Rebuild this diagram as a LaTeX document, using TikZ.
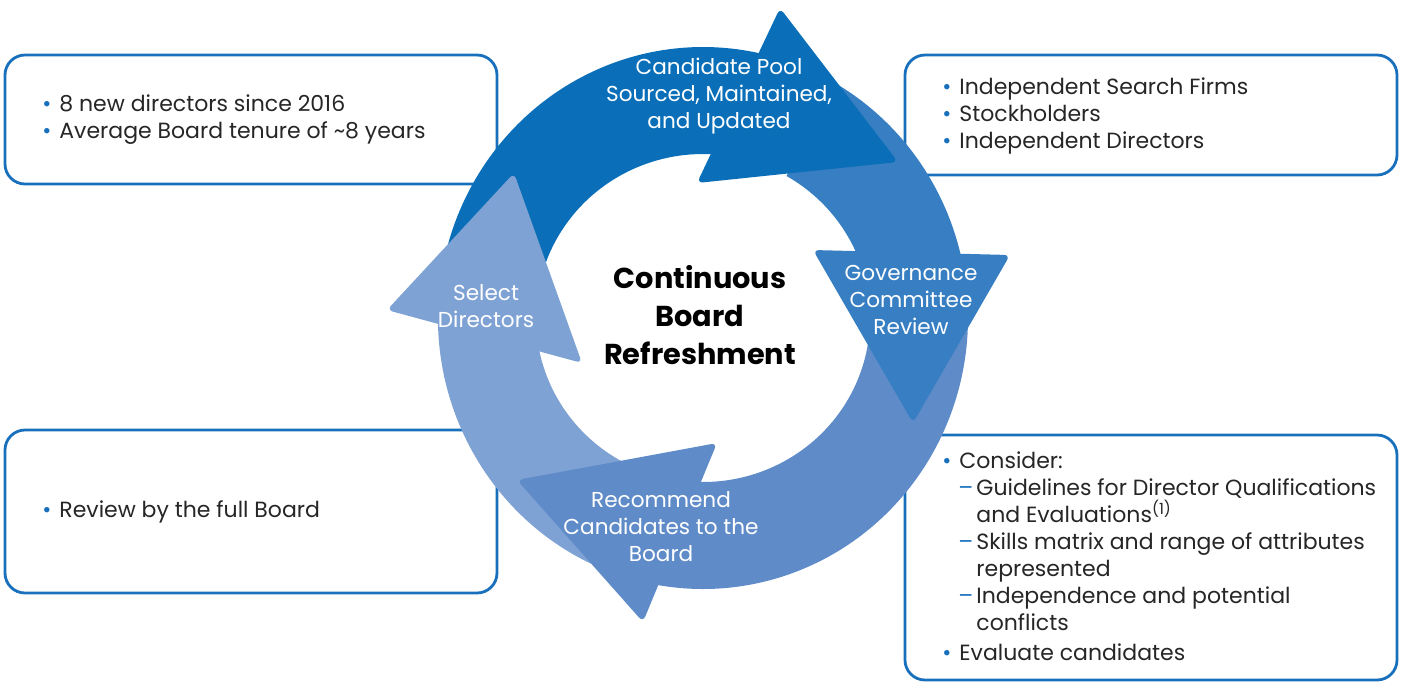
\documentclass[tikz,border=0pt]{standalone}
\usepackage{fontspec}
\setmainfont{Poppins}
\usetikzlibrary{positioning,calc}

\definecolor{poolblue}{RGB}{10,111,184}
\definecolor{reviewblue}{RGB}{55,127,194}
\definecolor{recblue}{RGB}{95,140,200}
\definecolor{selblue}{RGB}{127,162,212}
\definecolor{frameblue}{RGB}{24,112,188}
\definecolor{inktext}{RGB}{38,38,38}

\newcommand{\bul}{\makebox[8.5pt][l]{\color{frameblue}\textbullet}}
\newcommand{\sub}{\hspace*{8pt}\makebox[9pt][l]{\color{frameblue}--}}
\newcommand{\cont}{\hspace*{17pt}}

\begin{document}
\begin{tikzpicture}[x=0.5pt, y=-0.5pt,
    framebox/.style={draw=frameblue, line width=1.4pt, rounded corners=10pt, fill=white},
    notes/.style={anchor=west, align=left, inner sep=0pt, text=inktext,
        font=\fontsize{11}{13.5}\selectfont},
    steplabel/.style={align=center, inner sep=0pt, text=white,
        font=\fontsize{10.8}{13.5}\selectfont}]
    \useasboundingbox (0,0) rectangle (1403,682);

    % Note boxes
    \draw[framebox] (5,55) rectangle (497,184);
    \draw[framebox] (905,55) rectangle (1397,175);
    \draw[framebox] (5,430) rectangle (497,593);
    \draw[framebox] (905,435) rectangle (1397,680);

    % Ring bodies
    \begin{scope}[shift={(703,318)}, yscale=-1]
        \foreach \from/\to/\col in {170/70/poolblue, 60/0/reviewblue, 1/-110/recblue, 258/170/selblue}
            \fill[\col] (\from:265 and 271) arc[start angle=\from, end angle=\to, x radius=265, y radius=271]
                -- (\to:167 and 164) arc[start angle=\to, end angle=\from, x radius=167, y radius=164] -- cycle;
    \end{scope}

    % Arrow heads
    \fill[poolblue, rounded corners=3pt] (780,8) -- (898,162) -- (697,183) -- cycle;
    \fill[reviewblue, rounded corners=3pt] (813,250) -- (1010,255) -- (913,423) -- cycle;
    \fill[recblue, rounded corners=3pt] (717,443) -- (643,622) -- (517,480) -- cycle;
    \fill[selblue, rounded corners=3pt] (514,173) -- (582,363) -- (387,310) -- cycle;

    % Step labels
    \node[steplabel] (pool) at (719,96) {Candidate Pool\\Sourced, Maintained,\\and Updated};
    \node[steplabel] (review) at (911,300) {Governance\\Committee\\Review};
    \node[steplabel] (recommend) at (661,527) {Recommend\\Candidates to the\\Board};
    \node[steplabel] (select) at (486,306) {Select\\Directors};
    \node[align=center, inner sep=0pt, text=black,
        font=\fontsize{14.4}{19}\selectfont\bfseries] (cycle) at (700,315)
        {Continuous\\Board\\Refreshment};

    % Box texts
    \node[notes] (tenure) at (42,120) {\bul 8 new directors since 2016\\\bul Average Board tenure of \textasciitilde 8 years};
    \node[notes] (sources) at (942,116) {\bul Independent Search Firms\\\bul Stockholders\\\bul Independent Directors};
    \node[notes] (fullboard) at (42,512) {\bul Review by the full Board};
    \node[notes] (consider) at (942,556) {\bul Consider:\\
        \sub Guidelines for Director Qualifications\\
        \cont and Evaluations\textsuperscript{(1)}\\
        \sub Skills matrix and range of attributes\\
        \cont represented\\
        \sub Independence and potential\\
        \cont conflicts\\[1.5pt]
        \bul Evaluate candidates};
\end{tikzpicture}
\end{document}
